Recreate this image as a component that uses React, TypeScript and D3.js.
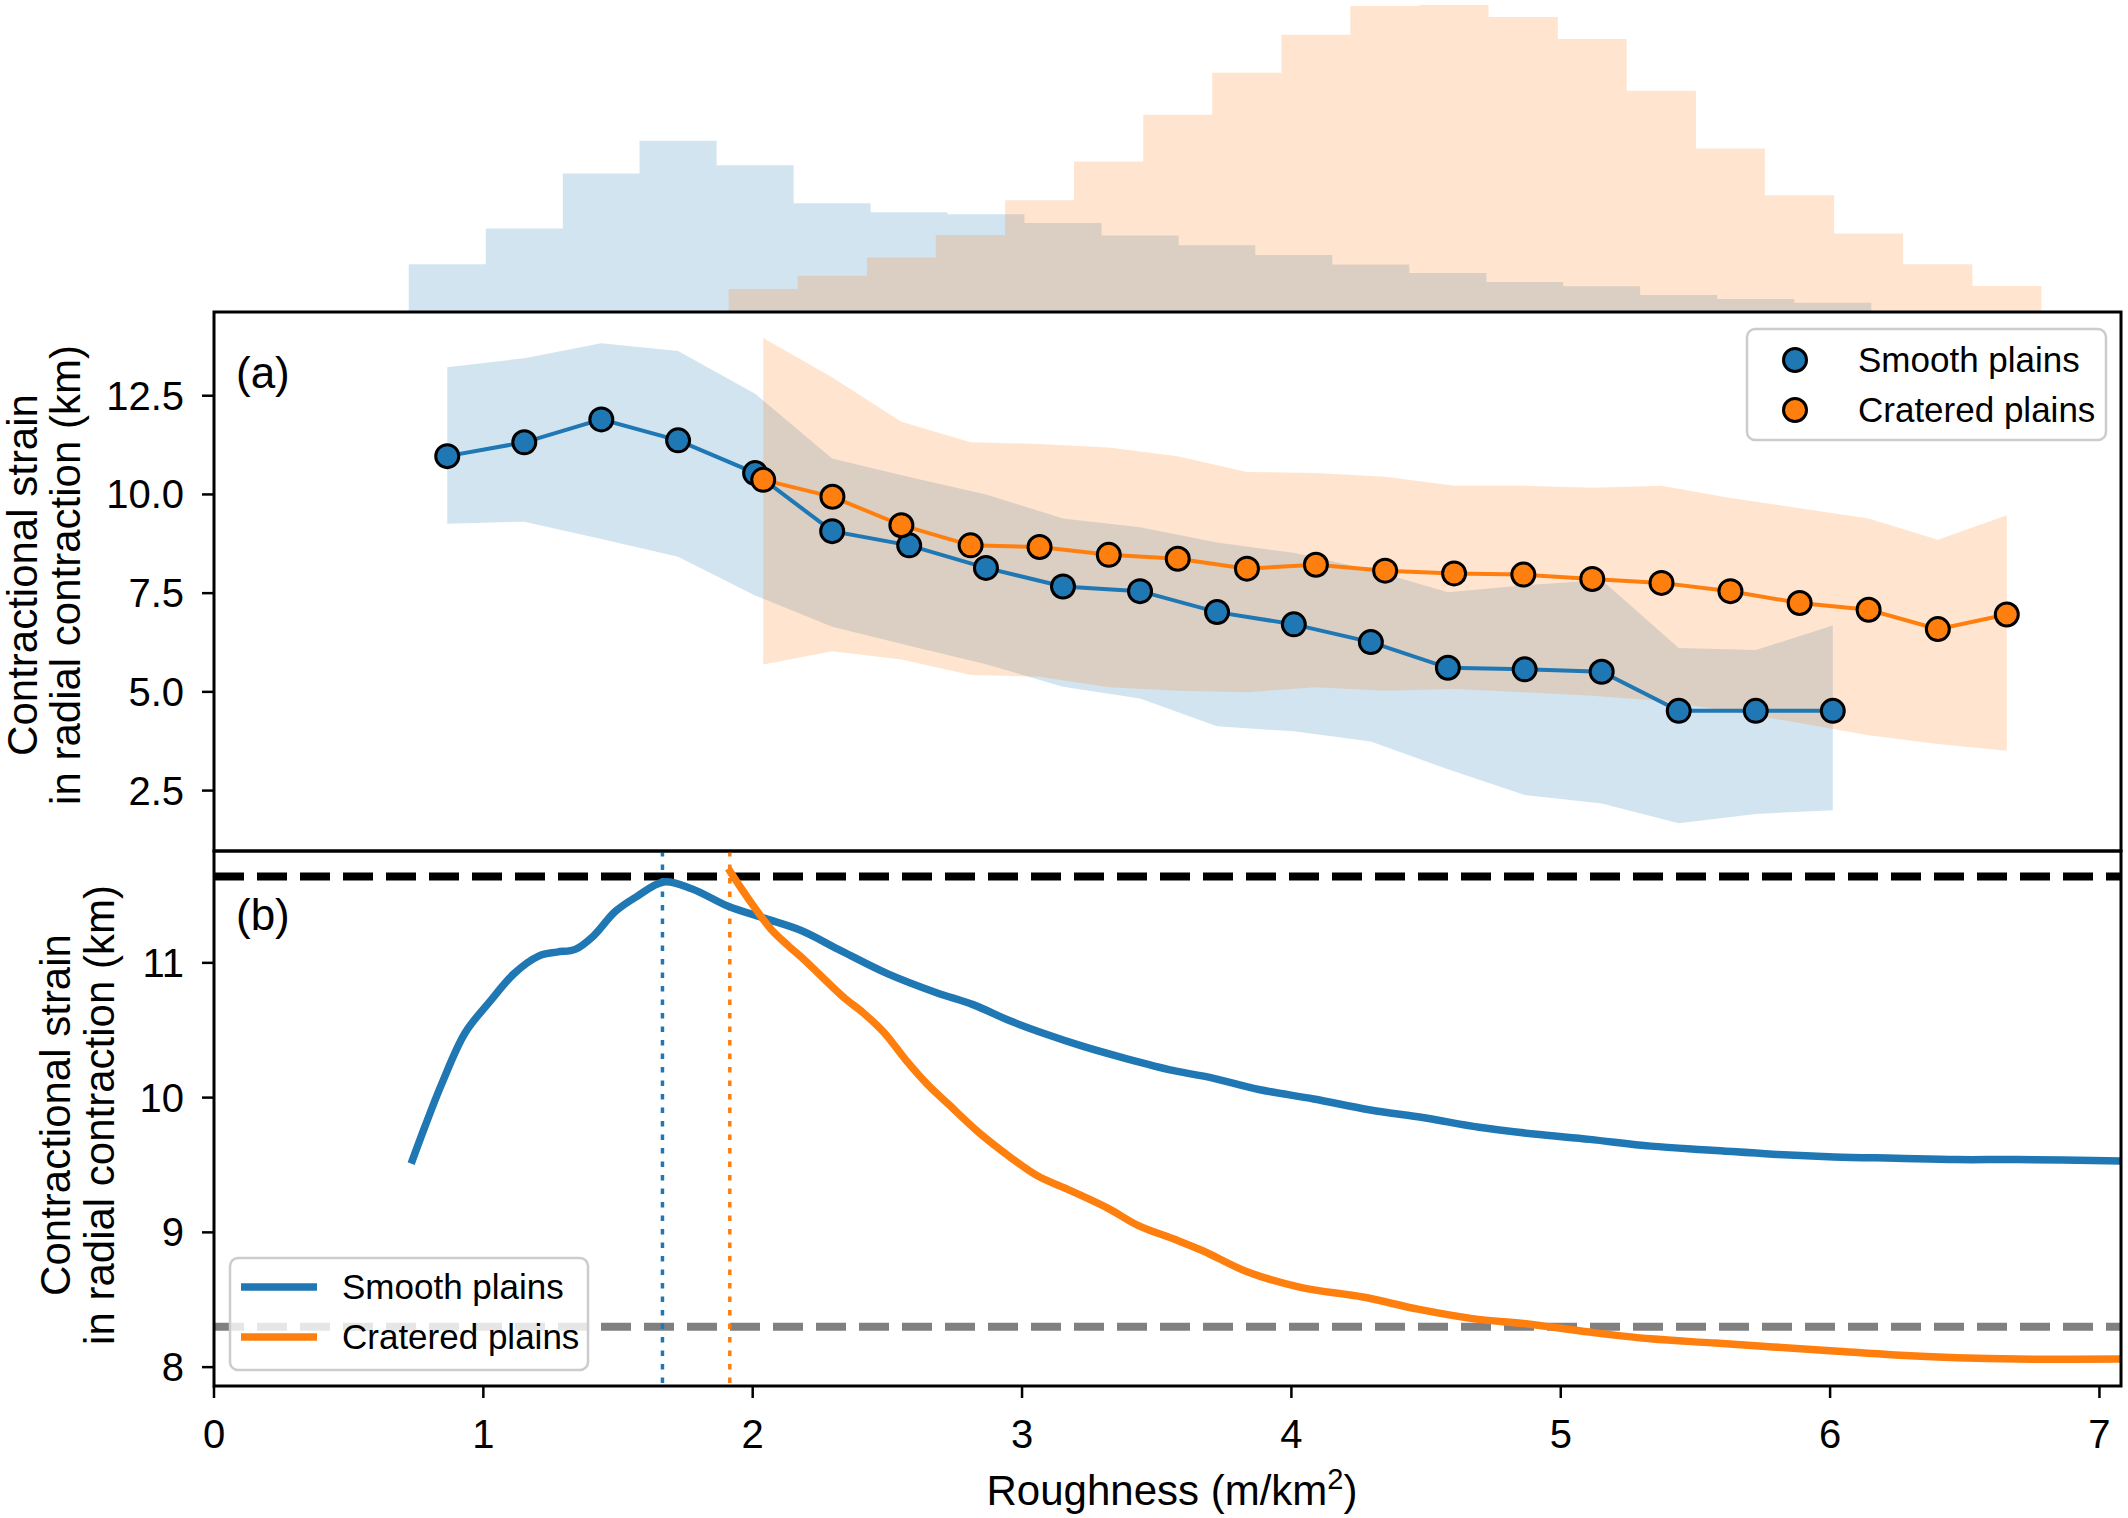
import { scaleLinear, area, line, curveLinear, curveCatmullRom, format } from 'd3';

// histogram (top strip), bin edges + heights
const smoothBinEdges = [0.723, 1.009, 1.295, 1.58, 1.866, 2.152, 2.438, 2.723, 3.009, 3.295, 3.581, 3.866, 4.152, 4.438, 4.724, 5.009, 5.295, 5.581, 5.867, 6.153];
const smoothCounts = [14.3, 25.0, 41.5, 51.3, 44.0, 32.6, 29.9, 29.3, 26.7, 22.9, 20.0, 17.1, 14.2, 11.7, 9.0, 7.7, 5.1, 3.9, 2.8];
const crateredBinEdges = [1.911, 2.167, 2.424, 2.68, 2.937, 3.193, 3.45, 3.706, 3.963, 4.219, 4.476, 4.732, 4.989, 5.245, 5.502, 5.758, 6.015, 6.271, 6.528, 6.784];
const crateredCounts = [6.9, 10.9, 16.3, 23.1, 33.5, 45.1, 59.1, 71.7, 83.1, 91.7, 92.0, 88.4, 81.8, 66.3, 49.0, 35.0, 23.5, 14.3, 7.8];

// panel (a): binned means with spread
const smoothX = [0.866, 1.152, 1.438, 1.723, 2.009, 2.295, 2.581, 2.866, 3.152, 3.438, 3.724, 4.009, 4.295, 4.581, 4.866, 5.152, 5.438, 5.724, 6.01];
const smoothMean = [10.97, 11.32, 11.9, 11.37, 10.54, 9.07, 8.71, 8.14, 7.67, 7.55, 7.02, 6.71, 6.26, 5.61, 5.57, 5.51, 4.52, 4.52, 4.52];
const smoothUpper = [13.22, 13.45, 13.83, 13.63, 12.55, 10.91, 10.44, 10.0, 9.39, 9.17, 8.78, 8.52, 8.09, 7.52, 7.7, 7.83, 6.11, 6.06, 6.68];
const smoothLower = [9.26, 9.31, 8.87, 8.42, 7.44, 6.65, 6.17, 5.7, 5.13, 4.83, 4.13, 4.0, 3.74, 3.04, 2.39, 2.17, 1.67, 1.91, 2.0];

const crateredX = [2.039, 2.296, 2.552, 2.809, 3.065, 3.322, 3.578, 3.835, 4.091, 4.348, 4.604, 4.861, 5.117, 5.374, 5.63, 5.887, 6.143, 6.4, 6.656];
const crateredMean = [10.37, 9.94, 9.22, 8.71, 8.67, 8.47, 8.37, 8.12, 8.22, 8.07, 8.0, 7.97, 7.86, 7.76, 7.55, 7.25, 7.08, 6.59, 6.96];
const crateredUpper = [13.96, 12.96, 11.84, 11.32, 11.28, 11.19, 10.97, 10.57, 10.54, 10.45, 10.22, 10.22, 10.17, 10.22, 9.91, 9.65, 9.39, 8.85, 9.47];
const crateredLower = [5.69, 6.03, 5.82, 5.43, 5.38, 5.12, 5.03, 4.99, 5.12, 5.03, 5.07, 4.99, 4.9, 4.77, 4.51, 4.21, 3.9, 3.68, 3.51];

// panel (b): cumulative curves
const smoothCurveX = [0.732, 0.784, 0.845, 0.932, 1.023, 1.114, 1.205, 1.273, 1.341, 1.409, 1.489, 1.568, 1.67, 1.773, 1.909, 2.045, 2.18, 2.318, 2.5, 2.68, 2.818, 2.955, 3.09, 3.227, 3.386, 3.564, 3.697, 3.879, 4.083, 4.288, 4.493, 4.697, 4.9, 5.107, 5.334, 5.561, 5.788, 6.015, 6.242, 6.47, 6.697, 7.08];
const smoothCurveY = [9.51, 9.79, 10.1, 10.48, 10.71, 10.92, 11.05, 11.08, 11.1, 11.2, 11.38, 11.49, 11.6, 11.55, 11.42, 11.33, 11.24, 11.1, 10.92, 10.78, 10.69, 10.57, 10.47, 10.38, 10.29, 10.2, 10.15, 10.06, 9.99, 9.91, 9.85, 9.78, 9.73, 9.69, 9.64, 9.61, 9.58, 9.56, 9.55, 9.54, 9.54, 9.53];
const crateredCurveX = [1.909, 1.955, 2.0, 2.068, 2.136, 2.193, 2.25, 2.34, 2.41, 2.489, 2.568, 2.648, 2.727, 2.84, 2.955, 3.057, 3.18, 3.318, 3.432, 3.564, 3.675, 3.833, 4.038, 4.265, 4.47, 4.673, 4.878, 5.107, 5.334, 5.561, 5.788, 6.015, 6.242, 6.47, 6.697, 7.08];
const crateredCurveY = [11.7, 11.56, 11.43, 11.25, 11.12, 11.02, 10.91, 10.74, 10.63, 10.48, 10.28, 10.1, 9.95, 9.74, 9.56, 9.42, 9.31, 9.18, 9.05, 8.95, 8.86, 8.71, 8.59, 8.52, 8.43, 8.36, 8.32, 8.26, 8.21, 8.18, 8.15, 8.12, 8.09, 8.07, 8.06, 8.06];

const refMax = 11.64;
const refMin = 8.3;
const smoothPeakX = 1.665;
const crateredPeakX = 1.915;

const xTicks = [0, 1, 2, 3, 4, 5, 6, 7];
const aTicks = [2.5, 5, 7.5, 10, 12.5];
const bTicks = [8, 9, 10, 11];
const seriesNames = ['Smooth plains', 'Cratered plains'];

const BLUE = '#1f77b4';
const ORANGE = '#ff7f0e';
const FONT = "'Liberation Sans', Arial, Helvetica, sans-serif";

const W = 2128;
const H = 1518;
const left = 214;
const right = 2121;
const histTop = 0;
const aTop = 312;
const aBottom = 851;
const bBottom = 1386;

const x = scaleLinear().domain([0, 7.08]).range([left, right]);
const yHist = scaleLinear().domain([0, 93.5]).range([aTop, histTop]);
const yA = scaleLinear().domain([0.97, 14.62]).range([aBottom, aTop]);
const yB = scaleLinear().domain([7.86, 11.83]).range([bBottom, aBottom]);

const fmtA = format('.1f');

// step-filled histogram, one path per series so no seams between bins
const Hist = ({ edges, counts, color }: { edges: number[]; counts: number[]; color: string }) => {
  const pts: [number, number][] = [];
  counts.forEach((c, i) => {
    pts.push([edges[i], c]);
    pts.push([edges[i + 1], c]);
  });
  const a = area<[number, number]>()
    .x((d) => x(d[0]))
    .y0(yHist(0))
    .y1((d) => yHist(d[1]));
  return <path d={a(pts) || ''} fill={color} fillOpacity={0.2} />;
};

const Band = ({ xs, lo, hi, color }: { xs: number[]; lo: number[]; hi: number[]; color: string }) => {
  const a = area<number>()
    .x((_, i) => x(xs[i]))
    .y0((_, i) => yA(lo[i]))
    .y1((_, i) => yA(hi[i]))
    .curve(curveLinear);
  return <path d={a(xs) || ''} fill={color} fillOpacity={0.2} />;
};

const MeanLine = ({ xs, ys, color }: { xs: number[]; ys: number[]; color: string }) => {
  const l = line<number>()
    .x((_, i) => x(xs[i]))
    .y((d) => yA(d));
  return (
    <g>
      <path d={l(ys) || ''} fill="none" stroke={color} strokeWidth={4} />
      {ys.map((d, i) => (
        <circle key={i} cx={x(xs[i])} cy={yA(d)} r={11.5} fill={color} stroke="#000" strokeWidth={3} />
      ))}
    </g>
  );
};

const Curve = ({ xs, ys, color }: { xs: number[]; ys: number[]; color: string }) => {
  const l = line<number>()
    .x((_, i) => x(xs[i]))
    .y((d) => yB(d))
    .curve(curveCatmullRom.alpha(0.5));
  return <path d={l(ys) || ''} fill="none" stroke={color} strokeWidth={7.5} strokeLinejoin="round" />;
};

const YAxis = ({ ticks, scale, label }: { ticks: number[]; scale: any; label: (v: number) => string }) => (
  <g>
    {ticks.map((t) => (
      <g key={t}>
        <line x1={left - 12} x2={left} y1={scale(t)} y2={scale(t)} stroke="#000" strokeWidth={2.5} />
        <text x={left - 30} y={scale(t) + 14} textAnchor="end" fontSize={40} fontFamily={FONT}>
          {label(t)}
        </text>
      </g>
    ))}
  </g>
);

const YLabel = ({ x1, x2, cy }: { x1: number; x2: number; cy: number }) => (
  <g fontSize={42} fontFamily={FONT} textAnchor="middle">
    <text transform={`translate(${x1}, ${cy}) rotate(-90)`}>Contractional strain</text>
    <text transform={`translate(${x2}, ${cy}) rotate(-90)`}>in radial contraction (km)</text>
  </g>
);

export default function App() {
  return (
    <svg width={W} height={H} style={{ position: 'absolute', left: 0, top: 0, background: '#fff' }}>
      <defs>
        <clipPath id="clipA">
          <rect x={left} y={aTop} width={right - left} height={aBottom - aTop} />
        </clipPath>
        <clipPath id="clipB">
          <rect x={left} y={aBottom} width={right - left} height={bBottom - aBottom} />
        </clipPath>
      </defs>
      <rect width={W} height={H} fill="#fff" />

      {/* top histograms */}
      <Hist edges={smoothBinEdges} counts={smoothCounts} color={BLUE} />
      <Hist edges={crateredBinEdges} counts={crateredCounts} color={ORANGE} />

      {/* panel (a) */}
      <g clipPath="url(#clipA)">
        <Band xs={smoothX} lo={smoothLower} hi={smoothUpper} color={BLUE} />
        <Band xs={crateredX} lo={crateredLower} hi={crateredUpper} color={ORANGE} />
        <MeanLine xs={smoothX} ys={smoothMean} color={BLUE} />
        <MeanLine xs={crateredX} ys={crateredMean} color={ORANGE} />
      </g>
      <text x={236} y={388} fontSize={44} fontFamily={FONT}>(a)</text>
      <g>
        <rect x={1747} y={329} width={359} height={111} rx={8} fill="#fff" fillOpacity={0.8} stroke="#cccccc" strokeWidth={2.5} />
        {seriesNames.map((n, i) => (
          <g key={n}>
            <circle cx={1795} cy={360 + i * 50} r={11.5} fill={i === 0 ? BLUE : ORANGE} stroke="#000" strokeWidth={3} />
            <text x={1858} y={372 + i * 50} fontSize={35} fontFamily={FONT}>{n}</text>
          </g>
        ))}
      </g>
      <rect x={left} y={aTop} width={right - left} height={aBottom - aTop} fill="none" stroke="#000" strokeWidth={3} />
      <YAxis ticks={aTicks} scale={yA} label={fmtA} />
      <YLabel x1={37} x2={80} cy={575} />

      {/* panel (b) */}
      <g clipPath="url(#clipB)">
        <line x1={left} x2={right} y1={yB(refMax)} y2={yB(refMax)} stroke="#000" strokeWidth={8} strokeDasharray="30 13" />
        <line x1={left} x2={right} y1={yB(refMin)} y2={yB(refMin)} stroke="#808080" strokeWidth={8} strokeDasharray="30 13" />
        <line x1={x(smoothPeakX)} x2={x(smoothPeakX)} y1={aBottom} y2={bBottom} stroke={BLUE} strokeWidth={3.5} strokeDasharray="5.5 8" />
        <line x1={x(crateredPeakX)} x2={x(crateredPeakX)} y1={aBottom} y2={bBottom} stroke={ORANGE} strokeWidth={3.5} strokeDasharray="5.5 8" />
        <Curve xs={smoothCurveX} ys={smoothCurveY} color={BLUE} />
        <Curve xs={crateredCurveX} ys={crateredCurveY} color={ORANGE} />
      </g>
      <text x={236} y={930} fontSize={44} fontFamily={FONT}>(b)</text>
      <g>
        <rect x={230} y={1258} width={358} height={112} rx={8} fill="#fff" fillOpacity={0.8} stroke="#cccccc" strokeWidth={2.5} />
        {seriesNames.map((n, i) => (
          <g key={n}>
            <line x1={241} x2={317} y1={1287 + i * 50} y2={1287 + i * 50} stroke={i === 0 ? BLUE : ORANGE} strokeWidth={7.5} />
            <text x={342} y={1299 + i * 50} fontSize={35} fontFamily={FONT}>{n}</text>
          </g>
        ))}
      </g>
      <rect x={left} y={aBottom} width={right - left} height={bBottom - aBottom} fill="none" stroke="#000" strokeWidth={3} />
      <YAxis ticks={bTicks} scale={yB} label={(v) => String(v)} />
      <YLabel x1={70} x2={114} cy={1115} />

      {/* x axis */}
      {xTicks.map((t) => (
        <g key={t}>
          <line x1={x(t)} x2={x(t)} y1={bBottom} y2={bBottom + 12} stroke="#000" strokeWidth={2.5} />
          <text x={x(t)} y={1448} textAnchor="middle" fontSize={40} fontFamily={FONT}>{t}</text>
        </g>
      ))}
      <text x={1172} y={1505} textAnchor="middle" fontSize={42} fontFamily={FONT}>
        Roughness (m/km<tspan dy={-16} fontSize={29}>2</tspan><tspan dy={16}>)</tspan>
      </text>
    </svg>
  );
}
